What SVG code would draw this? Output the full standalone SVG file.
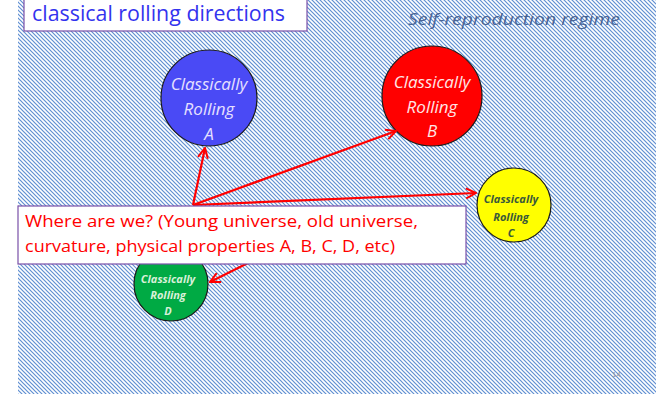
<svg xmlns="http://www.w3.org/2000/svg" width="656" height="394" viewBox="0 0 656 394">
<defs>
<pattern id="hatch" width="4" height="4" patternUnits="userSpaceOnUse">
<rect width="4" height="4" fill="#ffffff"/>
<path d="M0,0 L4,4 M-1,3 L1,5 M3,-1 L5,1" stroke="#5f8fd2" stroke-width="1.2"/>
</pattern>
<marker id="arr" viewBox="0 0 12 12" refX="11" refY="6" markerWidth="12" markerHeight="12" markerUnits="userSpaceOnUse" orient="auto">
<path d="M1,1 L11,6 L1,11" fill="none" stroke="#ff0000" stroke-width="2"/>
</marker>
</defs>
<style>
.circ{stroke:#1a1a1a;stroke-width:1.2}
.lbl{font-family:"Open Sans","Liberation Sans",sans-serif;font-style:italic;text-anchor:middle}
.big{font-size:17px}
.small{font-size:11px;font-weight:bold}
.conn{stroke:#ff0000;stroke-width:2.2;fill:none;marker-end:url(#arr)}
</style>
<rect x="18" y="0" width="638" height="394" fill="url(#hatch)"/>
<g id="title">
<rect x="24" y="-2" width="283" height="33" fill="#ffffff" stroke="#7a50a8" stroke-width="1.2"/>
<text x="32" y="21" font-family="'Open Sans','Liberation Sans',sans-serif" font-size="21" fill="#3333ee" textLength="253" lengthAdjust="spacingAndGlyphs">classical rolling directions</text>
</g>
<g id="regime">
<text x="408" y="25" font-family="'Open Sans','Liberation Sans',sans-serif" font-style="italic" font-size="17" fill="#4a6494" textLength="212" lengthAdjust="spacingAndGlyphs">Self-reproduction regime</text>
</g>
<g id="nodeA">
<circle cx="209" cy="98" r="48" fill="#4a4af5" class="circ"/>
<text class="lbl big" x="209" y="90" fill="#e6e0ff">Classically</text>
<text class="lbl big" x="209" y="115" fill="#e6e0ff">Rolling</text>
<text class="lbl big" x="209" y="140" fill="#e6e0ff">A</text>
</g>
<g id="nodeB">
<circle cx="432" cy="96" r="50" fill="#ff0000" class="circ"/>
<text class="lbl big" x="432" y="88" fill="#ffe6e6">Classically</text>
<text class="lbl big" x="432" y="113" fill="#ffe6e6">Rolling</text>
<text class="lbl big" x="432" y="137" fill="#ffe6e6">B</text>
</g>
<g id="nodeC">
<circle cx="514" cy="205" r="37" fill="#ffff00" class="circ"/>
<text class="lbl small" x="511" y="203" fill="#3a5a3a">Classically</text>
<text class="lbl small" x="511" y="221" fill="#3a5a3a">Rolling</text>
<text class="lbl small" x="511" y="237" fill="#3a5a3a">C</text>
</g>
<g id="nodeD">
<circle cx="171" cy="284" r="37" fill="#00aa44" class="circ"/>
<text class="lbl small" x="168" y="283" fill="#d8f0d8">Classically</text>
<text class="lbl small" x="168" y="299" fill="#d8f0d8">Rolling</text>
<text class="lbl small" x="168" y="315" fill="#d8f0d8">D</text>
</g>
<g id="connectors">
<line class="conn" x1="193" y1="205" x2="205" y2="148"/>
<line class="conn" x1="193" y1="205" x2="396" y2="131"/>
<line class="conn" x1="193" y1="205" x2="476" y2="193"/>
<line class="conn" x1="248" y1="263" x2="210" y2="282"/>
</g>
<g id="question">
<rect x="18" y="206" width="448" height="58" fill="#ffffff" stroke="#7a50a8" stroke-width="1.2"/>
<text x="25" y="227" font-family="'Open Sans','Liberation Sans',sans-serif" font-size="17" fill="#ff0000" textLength="393" lengthAdjust="spacingAndGlyphs">Where are we? (Young universe, old universe,</text>
<text x="25" y="252" font-family="'Open Sans','Liberation Sans',sans-serif" font-size="17" fill="#ff0000" textLength="370" lengthAdjust="spacingAndGlyphs">curvature, physical properties A, B, C, D, etc)</text>
</g>
<g id="pagenum">
<text x="612" y="377" font-family="'Liberation Sans',sans-serif" font-size="8" fill="#9a9a9a">14</text>
</g>
</svg>
